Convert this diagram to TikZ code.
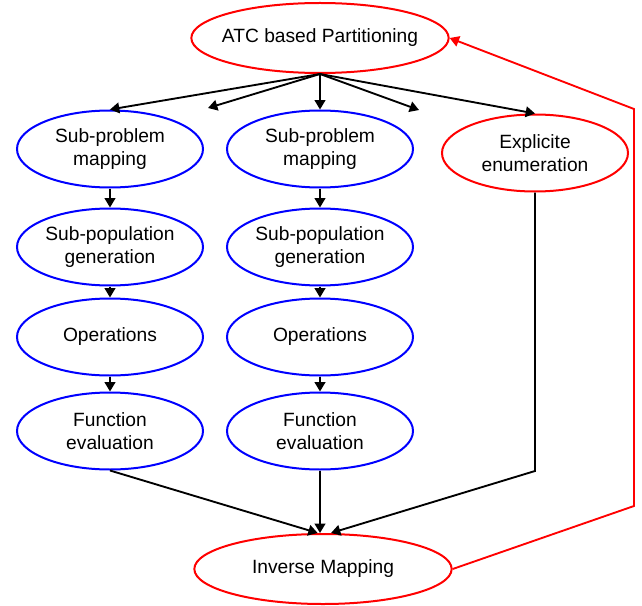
\documentclass[tikz,border=0pt]{standalone}
\usepackage{fontspec}
\setmainfont{Liberation Sans}
\usetikzlibrary{arrows.meta,shapes.geometric}

\begin{document}
\begin{tikzpicture}[
    x=0.75pt, y=-0.75pt,
    % ellipse styles (blue = per-column steps, red = shared stages)
    stepnode/.style={ellipse, draw=blue, line width=1.5pt, minimum width=139.5pt, minimum height=57.75pt, inner xsep=-5pt, inner ysep=0pt, align=center, font=\fontsize{14.4}{17.3}\selectfont},
    stagenode/.style={ellipse, draw=red, line width=1.5pt, minimum width=193pt, minimum height=52.5pt, inner xsep=-6pt, inner ysep=0pt, align=center, font=\fontsize{14.4}{17.3}\selectfont},
    enumnode/.style={stagenode, minimum width=139.5pt, minimum height=57.75pt},
    flow/.style={line width=1.4pt, -{Triangle[length=7pt,width=8pt]}},
    loopback/.style={flow, draw=red}
]
\useasboundingbox (0,0) rectangle (642,606);

% Partitioning stage
\node[stagenode] (atc) at (320,38) {ATC based Partitioning};

% Two sub-problem columns
\foreach \c/\x in {a/110, b/320} {
  \node[stepnode] (map\c) at (\x,149) {Sub-problem\\mapping};
  \node[stepnode] (pop\c) at (\x,247) {Sub-population\\generation};
  \node[stepnode] (oper\c) at (\x,337) {Operations};
  \node[stepnode] (eval\c) at (\x,431) {Function\\evaluation};
  \draw[flow] (map\c) -- (pop\c);
  \draw[flow] (pop\c) -- (oper\c);
  \draw[flow] (oper\c) -- (eval\c);
}

% Explicit enumeration branch
\node[enumnode] (enum) at (535,153) {Explicite\\enumeration};

% Inverse mapping stage
\node[stagenode] (inv) at (323,569) {Inverse Mapping};

% Fan-out from partitioning (two arrows lead to elided columns)
\coordinate (gapa) at (208,108);
\coordinate (gapb) at (419,110);
\draw[flow] (atc.south) -- (mapa.north);
\draw[flow] (atc.south) -- (gapa);
\draw[flow] (atc.south) -- (mapb.north);
\draw[flow] (atc.south) -- (gapb);
\draw[flow] (atc.south) -- (enum.north);

% Merge into inverse mapping
\coordinate (enumbend) at (535,471);
\draw[flow] (evala.south) -- ([xshift=-4pt]inv.north);
\draw[flow] (evalb.south) -- (evalb.south |- inv.north);
\draw[flow] (enum.south) -- (enumbend) -- ([xshift=6pt]inv.north);

% Feedback loop back to partitioning
\coordinate (loopa) at (634,506);
\coordinate (loopb) at (634,109);
\draw[loopback] (inv.east) -- (loopa) -- (loopb) -- (atc.east);

\end{tikzpicture}
\end{document}
